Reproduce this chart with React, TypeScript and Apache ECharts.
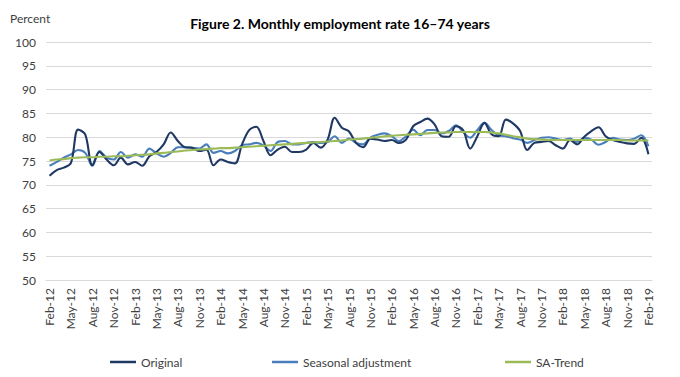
import React, { useEffect, useRef } from "react";
import * as echarts from "echarts";

const monthNames = ["Jan", "Feb", "Mar", "Apr", "May", "Jun", "Jul", "Aug", "Sep", "Oct", "Nov", "Dec"];
const years = ["12", "13", "14", "15", "16", "17", "18", "19"];
// Feb-12 .. Feb-19 monthly
const categories: string[] = [];
for (let y = 0; y < years.length; y++) {
  for (let m = 0; m < 12; m++) {
    if (y === 0 && m < 1) continue;
    if (y === years.length - 1 && m > 1) continue;
    categories.push(monthNames[m] + "-" + years[y]);
  }
}

const yTicks = [50, 55, 60, 65, 70, 75, 80, 85, 90, 95, 100];

const original = [
  71.9, 73.1, 73.6, 74.6, 81.6, 80.6, 74.1, 76.9, 75.3, 74.1, 75.7, 74.3, 74.8, 74.0, 76.0, 76.9, 78.5, 81.0, 79.2, 77.9, 77.8,
  77.1, 77.4, 74.1, 75.3, 74.8, 74.5, 78.5, 81.5, 82.2, 79.2, 76.2, 77.4, 78.0, 76.9, 76.9, 77.4, 78.8, 77.8, 79.5, 84.1, 82.0, 81.2,
  78.8, 77.9, 79.7, 79.5, 79.2, 79.4, 78.8, 79.5, 82.3, 83.2, 83.9, 82.7, 80.2, 80.1, 82.3, 81.5, 77.6, 80.2, 83.0, 80.6, 80.2,
  83.7, 82.9, 81.3, 77.3, 78.8, 79.0, 79.2, 78.3, 77.6, 79.4, 78.5, 80.1, 81.3, 82.1, 80.2, 79.4, 79.0, 78.7, 78.6, 79.9, 76.4,
];

const seasonal = [
  74.0, 74.8, 75.7, 76.4, 77.3, 76.7, 74.0, 77.1, 75.7, 75.3, 76.9, 75.7, 76.4, 75.9, 77.6, 76.6, 75.9, 76.7, 77.9, 77.9, 77.8,
  77.6, 78.5, 76.7, 77.1, 76.6, 77.1, 78.3, 78.5, 78.8, 78.3, 77.1, 79.0, 79.2, 78.5, 78.5, 78.8, 79.0, 78.8, 79.0, 80.2, 78.8, 79.7,
  78.8, 78.5, 79.9, 80.5, 80.8, 80.2, 79.2, 80.2, 81.6, 80.4, 81.5, 81.5, 80.8, 81.3, 82.5, 81.1, 79.9, 81.5, 83.0, 81.5, 80.4,
  80.2, 79.8, 79.5, 78.8, 79.4, 79.9, 80.0, 79.7, 79.4, 79.7, 79.0, 79.9, 79.5, 78.4, 79.0, 79.9, 79.5, 79.4, 79.7, 80.4, 78.1,
];

const trend = [
  75.1, 75.3, 75.4, 75.6, 75.7, 75.8, 75.8, 75.9, 75.9, 76.0, 76.0, 76.1, 76.2, 76.3, 76.4, 76.6, 76.7, 76.9, 77.0, 77.2, 77.3,
  77.4, 77.5, 77.6, 77.7, 77.7, 77.8, 77.9, 78.0, 78.1, 78.2, 78.3, 78.4, 78.5, 78.6, 78.7, 78.8, 78.9, 79.0, 79.1, 79.2, 79.3, 79.5,
  79.6, 79.7, 79.9, 80.0, 80.2, 80.3, 80.4, 80.5, 80.6, 80.7, 80.8, 80.9, 81.0, 81.0, 81.1, 81.1, 81.1, 81.1, 81.1, 81.0, 80.8,
  80.5, 80.2, 80.0, 79.7, 79.6, 79.5, 79.4, 79.4, 79.4, 79.4, 79.4, 79.4, 79.4, 79.4, 79.4, 79.4, 79.4, 79.3, 79.3, 79.3, 79.3,
];

const seriesNames = ["Original", "Seasonal adjustment", "SA-Trend"];
const colors = ["#1f3864", "#4a7ebb", "#9bbb59"];

const FONT = "Lato, 'Liberation Sans', sans-serif";

export default function App() {
  const ref = useRef<HTMLDivElement>(null);
  useEffect(() => {
    if (!ref.current) return;
    const chart = echarts.init(ref.current, null, { renderer: "svg" });
    const dataSets = [original, seasonal, trend];
    const legendLefts = [110, 272, 505];
    chart.setOption({
      animation: false,
      backgroundColor: "#ffffff",
      textStyle: { fontFamily: FONT },
      title: {
        text: "Figure 2. Monthly employment rate 16–74 years",
        left: "center",
        top: 11,
        textStyle: { fontFamily: FONT, fontSize: 14, fontWeight: "bold", color: "#000000" },
      },
      graphic: [
        {
          type: "text",
          left: 10,
          top: 12,
          style: { text: "Percent", font: "12px " + FONT, fill: "#404040" },
        },
      ],
      legend: seriesNames.map((n, i) => ({
        data: [n],
        left: legendLefts[i],
        top: 356,
        padding: 0,
        icon: "rect",
        itemWidth: 26,
        itemHeight: 2.5,
        itemGap: 3,
        textStyle: { fontFamily: FONT, fontSize: 12, color: "#404040" },
      })),
      grid: { left: 46, right: 28, top: 42, bottom: 97, containLabel: false },
      xAxis: {
        type: "category",
        data: categories,
        boundaryGap: true,
        axisLine: { show: true, lineStyle: { color: "#d9d9d9", width: 1 } },
        axisTick: { show: false },
        axisLabel: {
          interval: 2,
          rotate: 90,
          fontFamily: FONT,
          fontSize: 12,
          color: "#404040",
          margin: 8,
        },
        splitLine: { show: false },
      },
      yAxis: {
        type: "value",
        min: yTicks[0],
        max: yTicks[yTicks.length - 1],
        interval: 5,
        axisLine: { show: false },
        axisTick: { show: false },
        axisLabel: { fontFamily: FONT, fontSize: 12, color: "#404040", margin: 10 },
        splitLine: { show: true, lineStyle: { color: "#d9d9d9", width: 1 } },
      },
      series: seriesNames.map((n, i) => ({
        name: n,
        type: "line",
        data: dataSets[i],
        smooth: 0.35,
        showSymbol: false,
        symbol: "none",
        lineStyle: { color: colors[i], width: 2.1 },
        itemStyle: { color: colors[i] },
        z: i === 2 ? 5 : 3 - i,
      })),
    });
    return () => chart.dispose();
  }, []);
  return <div ref={ref} style={{ width: 680, height: 377, position: "absolute", left: 0, top: 0 }} />;
}
